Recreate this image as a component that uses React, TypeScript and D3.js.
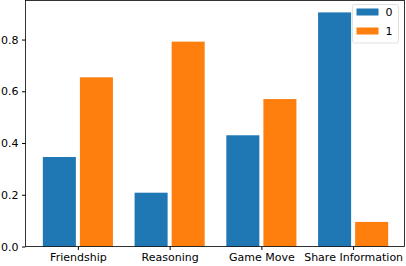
import { useRef, useEffect } from "react";
import * as d3 from "d3";

const categories = ["Friendship", "Reasoning", "Game Move", "Share Information"];
const series0 = [0.346, 0.208, 0.43, 0.905];
const series1 = [0.654, 0.792, 0.57, 0.095];
const seriesNames = ["0", "1"];
const yTicks = [0, 0.2, 0.4, 0.6, 0.8];

const colors = ["#1f77b4", "#ff7f0e"];

export default function App() {
    const svgRef = useRef<SVGSVGElement | null>(null);
    const width = 406;
    const height = 266;

    useEffect(() => {
        if (!svgRef.current) return;
        const svg = d3.select(svgRef.current);
        svg.selectAll("*").remove();

        const margin = { top: 0.5, right: 1.5, bottom: 19.5, left: 25.5 };
        const font = "DejaVu Sans, sans-serif";
        const fs = 11;

        // numeric x axis like matplotlib (category index)
        const x = d3
            .scaleLinear()
            .domain([-0.571, 3.56])
            .range([margin.left, width - margin.right]);

        const y = d3
            .scaleLinear()
            .domain([0, 0.951])
            .range([height - margin.bottom, margin.top]);

        const barW = 0.36;
        const gap = 0.022;
        const allSeries = [series0, series1];

        allSeries.forEach((vals, si) => {
            svg
                .append("g")
                .selectAll("rect")
                .data(vals)
                .enter()
                .append("rect")
                .attr("x", (_d, i) => si === 0 ? x(i - gap - barW) : x(i + gap))
                .attr("width", x(barW) - x(0))
                .attr("y", d => y(d))
                .attr("height", d => y(0) - y(d))
                .attr("fill", colors[si]);
        });

        // Y axis
        const yAxis = svg
            .append("g")
            .attr("transform", `translate(${margin.left},0)`)
            .call(d3.axisLeft(y).tickValues(yTicks).tickFormat(d3.format(".1f")).tickSizeOuter(0).tickSize(3.5).tickPadding(3.5));
        yAxis.select(".domain").remove();
        yAxis.selectAll("text").attr("font-family", font).attr("font-size", fs).attr("fill", "#000");

        // X axis
        const xAxis = svg
            .append("g")
            .attr("transform", `translate(0,${height - margin.bottom})`)
            .call(
                d3.axisBottom(x)
                    .tickValues(d3.range(categories.length))
                    .tickFormat((_d, i) => categories[i])
                    .tickSize(3.5)
                    .tickPadding(3)
            );
        xAxis.select(".domain").remove();
        xAxis.selectAll("text").attr("font-family", font).attr("font-size", fs).attr("fill", "#000");

        // frame
        svg
            .append("rect")
            .attr("x", margin.left)
            .attr("y", margin.top)
            .attr("width", width - margin.right - margin.left)
            .attr("height", height - margin.bottom - margin.top)
            .attr("fill", "none")
            .attr("stroke", "#000")
            .attr("stroke-width", 0.8);

        // legend
        const lg = svg.append("g").attr("transform", `translate(352.5,4.5)`);
        lg.append("rect")
            .attr("width", 46)
            .attr("height", 38.5)
            .attr("rx", 2)
            .attr("fill", "#fff")
            .attr("fill-opacity", 0.8)
            .attr("stroke", "#d9d9d9")
            .attr("stroke-width", 0.8);
        seriesNames.forEach((name, i) => {
            lg.append("rect")
                .attr("x", 4)
                .attr("y", 7.5 + i * 19 - 3.5)
                .attr("width", 22)
                .attr("height", 7)
                .attr("fill", colors[i]);
            lg.append("text")
                .attr("x", 33)
                .attr("y", 7.5 + i * 19)
                .attr("dy", "0.36em")
                .attr("font-family", font)
                .attr("font-size", fs)
                .text(name);
        });
    }, []);

    return (
        <svg
            ref={svgRef}
            width={width}
            height={height}
            style={{ position: "absolute", left: 0, top: 0, background: "#fff" }}
        />
    );
}
